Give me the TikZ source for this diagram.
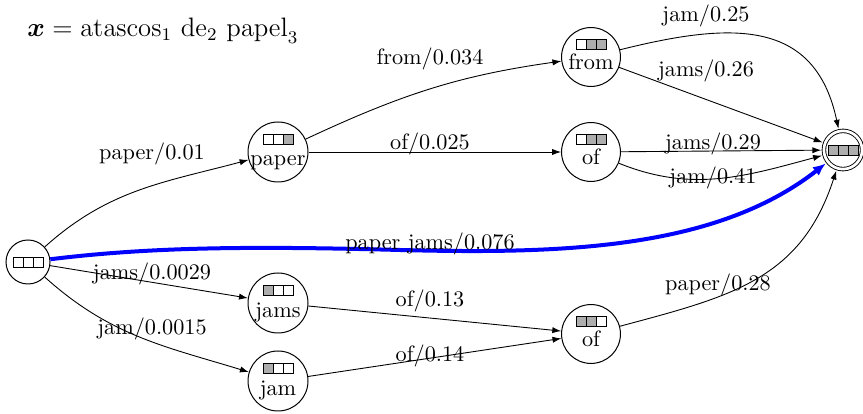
\documentclass[tikz,border=0pt]{standalone}
\usepackage{amsmath}
\usetikzlibrary{arrows.meta,calc}

\definecolor{cellgray}{gray}{0.68}
\definecolor{pathblue}{RGB}{0,0,255}

% a row of three cells inside a state: node, vertical offset of the top, three fills
\newcommand\cellrow[5]{%
  \foreach \k/\c in {0/#3,1/#4,2/#5}{%
    \draw[cell, fill=\c] ($(#1)+(-15+10*\k,#2)$) rectangle +(10,10);
  }}

\begin{document}
\begin{tikzpicture}[x=0.45pt,y=-0.45pt,
  st/.style={circle, draw, line width=0.45pt, inner sep=0pt, minimum size=#1},
  fin/.style={circle, draw, line width=0.4pt, double, double distance=1.2pt,
    inner sep=0pt, minimum size=17.2pt, outer sep=1.2pt},
  cell/.style={draw, line width=0.4pt},
  word/.style={anchor=base, inner sep=0pt, font=\normalsize},
  lbl/.style={anchor=base, inner sep=0pt, font=\normalsize},
  arc/.style={draw, line width=0.4pt, -{Latex[length=4pt,width=2.8pt]}},
  best/.style={draw=pathblue, line width=1.8pt, -{Latex[length=5.8pt,width=4.8pt]}}]
\useasboundingbox (0,0) rectangle (863,414);

% title
\node[anchor=base west, inner sep=0pt, font=\large] (title) at (27,37)
  {$\boldsymbol{x} = \mathrm{atascos}_1\ \mathrm{de}_2\ \mathrm{papel}_3$};

% states
\node[st=19.8pt] (s)  at (28,262)  {};
\node[st=27pt]   (p)  at (278,152) {};
\node[st=26.5pt] (fr) at (591,57)  {};
\node[st=26.5pt] (o1) at (591,152) {};
\node[st=27pt]   (js) at (278,303) {};
\node[st=27pt]   (jm) at (278,381) {};
\node[st=26.5pt] (o2) at (591,334) {};
\node[fin]       (f)  at (843,150) {};

% coverage cells
\cellrow{s}{-5}{white}{white}{white}
\cellrow{p}{-17.5}{white}{white}{cellgray}
\cellrow{fr}{-17.5}{white}{cellgray}{cellgray}
\cellrow{o1}{-17.5}{white}{cellgray}{cellgray}
\cellrow{js}{-17.5}{cellgray}{white}{white}
\cellrow{jm}{-17.5}{cellgray}{white}{white}
\cellrow{o2}{-17.5}{cellgray}{cellgray}{white}
\cellrow{f}{-5}{cellgray}{cellgray}{cellgray}

% words of the states
\node[word] (wp)  at ($(p)+(0,14)$)  {paper};
\node[word] (wfr) at ($(fr)+(0,13)$) {from};
\node[word] (wo1) at ($(o1)+(0,13)$) {of};
\node[word] (wjs) at ($(js)+(0,15)$) {jams};
\node[word] (wjm) at ($(jm)+(0,15)$) {jam};
\node[word] (wo2) at ($(o2)+(0,13)$) {of};

% transitions
\draw[arc] (s) to[out=42,in=195] (p);
\draw[arc] (s) -- (js);
\draw[arc] (s) to[out=-42,in=163] (jm);
\draw[arc] (p) to[out=25,in=188] (fr);
\draw[arc] (p) -- (o1);
\draw[arc] (fr) to[out=14,in=102,looseness=1.25] (f);
\draw[arc] (fr) -- (f);
\draw[arc] (o1) -- (f);
\draw[arc] (o1) to[out=-22,in=195] (f);
\draw[arc] (js) -- (o2);
\draw[arc] (jm) -- (o2);
\draw[arc] (o2) to[out=15,in=-108,looseness=1.1] (f);

% best path
\coordinate (bm) at (400,250);
\draw[best] (s) .. controls (150,247) and (250,246) .. (bm)
                .. controls (560,254) and (715,250) .. (f);

% transition labels
\node[lbl] (l1)  at (152,160) {paper/0.01};
\node[lbl] (l2)  at (430,65)  {from/0.034};
\node[lbl] (l3)  at (430,150) {of/0.025};
\node[lbl] (l4)  at (706,22)  {jam/0.25};
\node[lbl] (l5)  at (706,77)  {jams/0.26};
\node[lbl] (l6)  at (713,150) {jams/0.29};
\node[lbl] (l7)  at (713,184) {jam/0.41};
\node[lbl] (l8)  at (430,250) {paper jams/0.076};
\node[lbl] (l9)  at (152,280) {jams/0.0029};
\node[lbl] (l10) at (152,335) {jam/0.0015};
\node[lbl] (l11) at (430,307) {of/0.13};
\node[lbl] (l12) at (430,362) {of/0.14};
\node[lbl] (l13) at (718,291) {paper/0.28};
\end{tikzpicture}
\end{document}
